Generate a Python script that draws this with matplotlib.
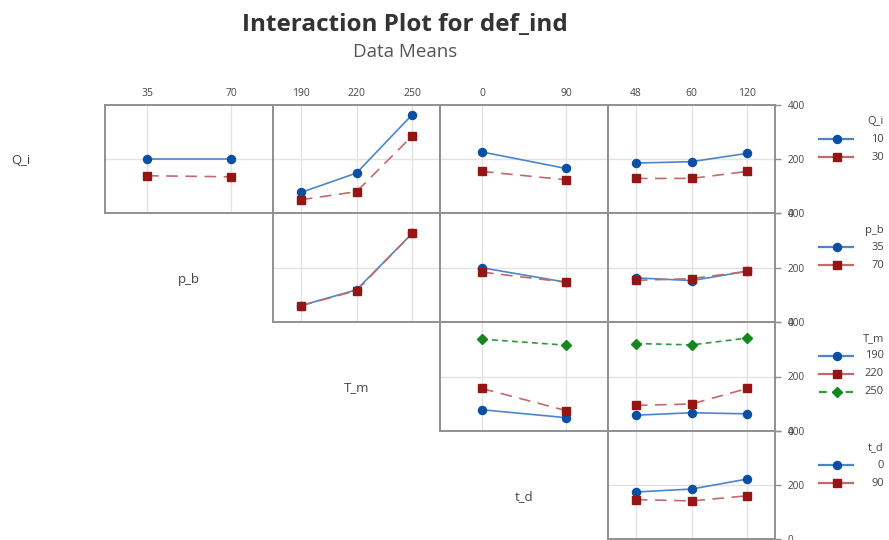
import matplotlib
matplotlib.use("Agg")
import matplotlib.pyplot as plt
from matplotlib.lines import Line2D

plt.rcParams['font.family'] = ['Open Sans', 'DejaVu Sans']

# Factor names and their levels
trace_factors = ["Q_i", "p_b", "T_m", "t_d"]
levels_Q_i = ["10", "30"]
levels_p_b = ["35", "70"]
levels_T_m = ["190", "220", "250"]
levels_t_d = ["0", "90"]
levels_f5 = ["48", "60", "120"]

# Mean def_ind for each trace level (rows) across x-factor levels (columns)
qi_by_pb = [[200, 200], [138, 134]]
qi_by_tm = [[76, 148, 364], [49, 79, 285]]
qi_by_td = [[226, 165], [154, 123]]
qi_by_f5 = [[185, 190, 221], [128, 128, 154]]
pb_by_tm = [[60, 118, 325], [60, 115, 325]]
pb_by_td = [[199, 146], [183, 146]]
pb_by_f5 = [[162, 152, 186], [153, 159, 186]]
tm_by_td = [[78, 49], [156, 75], [337, 315]]
tm_by_f5 = [[58, 67, 63], [94, 99, 156], [321, 316, 341]]
td_by_f5 = [[174, 185, 222], [146, 141, 160]]

y_ticks = [0, 200, 400]

x_levels = [levels_p_b, levels_T_m, levels_t_d, levels_f5]
trace_levels = [levels_Q_i, levels_p_b, levels_T_m, levels_t_d]
panels = {
    (0, 0): qi_by_pb, (0, 1): qi_by_tm, (0, 2): qi_by_td, (0, 3): qi_by_f5,
    (1, 1): pb_by_tm, (1, 2): pb_by_td, (1, 3): pb_by_f5,
    (2, 2): tm_by_td, (2, 3): tm_by_f5,
    (3, 3): td_by_f5,
}

styles = [
    dict(marker_color="#0A4FA3", line_color="#4C86C8", marker="o", ms=5.8, ls="-"),
    dict(marker_color="#951515", line_color="#C46A6A", marker="s", ms=5.8, ls=(0, (7, 4.5))),
    dict(marker_color="#15871F", line_color="#2E9A3A", marker="D", ms=5.0, ls=(0, (3.5, 2.5))),
]

W, H = 889, 540
fig = plt.figure(figsize=(W / 100, H / 100), dpi=100)

col_edges = [105, 273, 440, 608, 775]
row_edges = [105, 213, 322, 431, 539]


def fig_rect(x0, x1, y0, y1):
    return [x0 / W, 1 - y1 / H, (x1 - x0) / W, (y1 - y0) / H]


frame_color = "#909090"
grid_color = "#E3E3E3"
text_color = "#444444"

for (r, c), series in panels.items():
    ax = fig.add_axes(fig_rect(col_edges[c], col_edges[c + 1], row_edges[r], row_edges[r + 1]))
    n = len(x_levels[c])
    xs = list(range(n))
    ax.set_xlim(-0.5, n - 0.5)
    ax.set_ylim(0, 400)
    for x in xs:
        ax.axvline(x, color=grid_color, lw=1, zorder=0)
    ax.axhline(200, color=grid_color, lw=1, zorder=0)
    for k, vals in enumerate(series):
        st = styles[k]
        ax.plot(xs, vals, color=st["line_color"], ls=st["ls"], lw=1.2, zorder=2)
        ax.plot(xs, vals, ls="none", marker=st["marker"], ms=st["ms"],
                mfc=st["marker_color"], mec=st["marker_color"], zorder=3)
    for s in ax.spines.values():
        s.set_color(frame_color)
        s.set_linewidth(1.4)
    ax.set_xticks(xs)
    if r == 0:
        ax.xaxis.tick_top()
        ax.set_xticklabels(x_levels[c], fontsize=7.5, color=text_color)
        ax.tick_params(axis="x", length=0, pad=4)
    else:
        ax.tick_params(axis="x", length=0, labelbottom=False, labeltop=False)
    ax.set_yticks(y_ticks)
    if c == 3:
        ax.yaxis.tick_right()
        ax.set_yticklabels([str(v) for v in y_ticks], fontsize=7.2, color=text_color)
        ax.tick_params(axis="y", length=4, width=1, color=frame_color, pad=5)
    else:
        ax.tick_params(axis="y", length=0, labelleft=False, labelright=False)

# Factor names in the diagonal cells
diag_centers = [(21, 160), (189, 280), (357, 388), (524, 497)]
for name, (cx, cy) in zip(trace_factors, diag_centers):
    fig.text(cx / W, 1 - cy / H, name, ha="center", va="center",
             fontsize=9.5, color=text_color)

# Legends for each trace factor
for r, (name, levels) in enumerate(zip(trace_factors, trace_levels)):
    top = row_edges[r]
    fig.text(884 / W, 1 - (top + 17) / H, name, ha="right", va="center",
             fontsize=8, color=text_color)
    for k, lab in enumerate(levels):
        y = 1 - (top + 34 + 18 * k) / H
        st = styles[k]
        fig.add_artist(Line2D([819 / W, 853 / W], [y, y], color=st["line_color"],
                              ls=st["ls"] if k == 2 else "-", lw=1.6,
                              transform=fig.transFigure))
        fig.add_artist(Line2D([837 / W], [y], ls="none", marker=st["marker"],
                              ms=st["ms"], mfc=st["marker_color"], mec=st["marker_color"],
                              transform=fig.transFigure))
        fig.text(884 / W, y, lab, ha="right", va="center", fontsize=8, color=text_color)

fig.text(405 / W, 1 - 25 / H, "Interaction Plot for def_ind", ha="center", va="center",
         fontsize=17.5, fontweight="bold", color="#333333")
fig.text(405 / W, 1 - 52 / H, "Data Means", ha="center", va="center",
         fontsize=13.5, color="#555555")

fig.savefig("out.png", dpi=100)
